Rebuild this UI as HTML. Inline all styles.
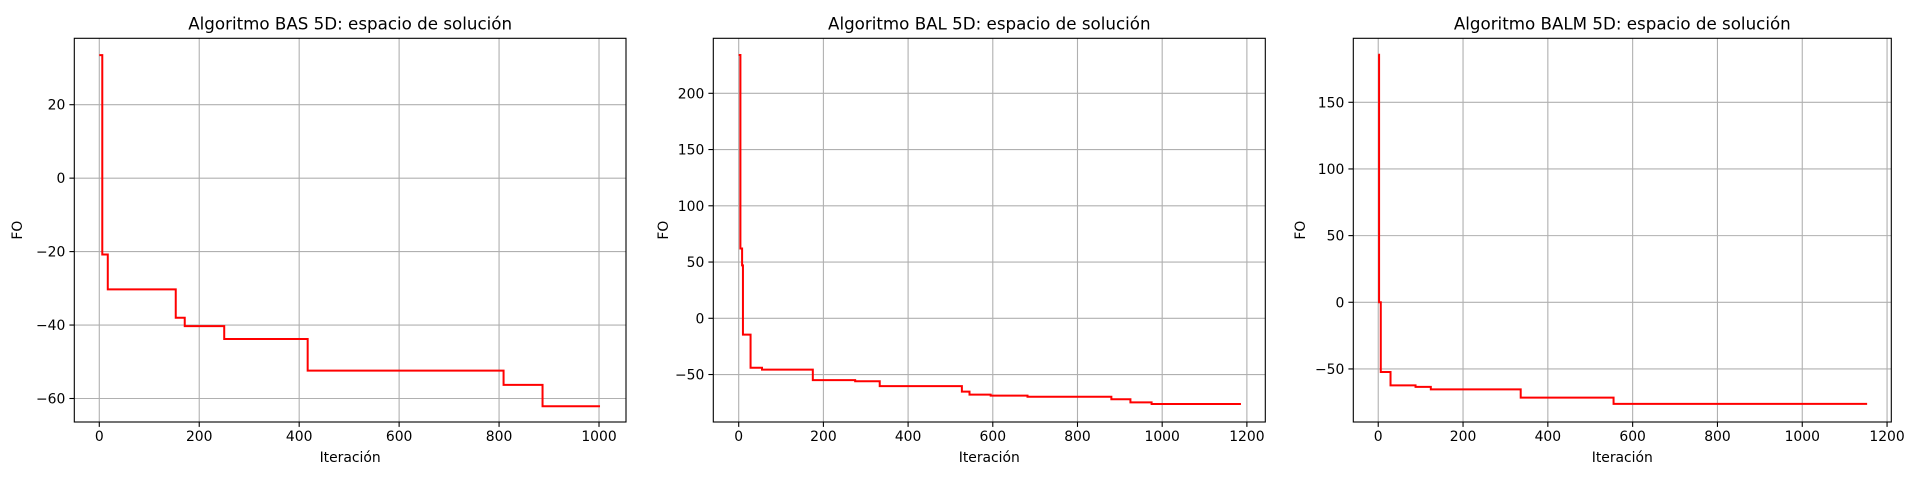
<!DOCTYPE html>
<html><head><meta charset="utf-8"><style>
html,body{margin:0;padding:0;background:#fff;}
svg text{font-family:"DejaVu Sans","Liberation Sans",sans-serif;fill:#000;}
</style></head><body>
<svg id="fig" width="1920" height="480" xmlns="http://www.w3.org/2000/svg"></svg>
<script>
// ---- data ----
const basX = [0, 6, 17, 153, 171, 250, 417, 809, 887];
const basY = [33.5, -20.8, -30.3, -38, -40.3, -43.8, -52.4, -56.3, -62.1];
const basEnd = 1002;
const balX = [0, 4, 8, 10, 28, 55, 175, 275, 333, 527, 545, 595, 682, 880, 925, 975];
const balY = [234, 62, 47, -14.5, -44, -45.6, -55, -56, -60.3, -65.2, -67.9, -68.8, -69.7, -72, -74.7, -76.2];
const balEnd = 1186;
const balmX = [0, 2, 6, 29, 88, 124, 336, 555];
const balmY = [185.7, 0, -52.3, -62.3, -63.5, -65.3, -71.5, -76.2];
const balmEnd = 1153;
const basYTicks = [-60, -40, -20, 0, 20];
const balYTicks = [-50, 0, 50, 100, 150, 200];
const balmYTicks = [-50, 0, 50, 100, 150];
const basXTicks = [0, 200, 400, 600, 800, 1000];
const balXTicks = [0, 200, 400, 600, 800, 1000, 1200];
const balmXTicks = [0, 200, 400, 600, 800, 1000, 1200];
const titles = ["Algoritmo BAS 5D: espacio de solución","Algoritmo BAL 5D: espacio de solución","Algoritmo BALM 5D: espacio de solución"];

const NS = "http://www.w3.org/2000/svg";
const svg = document.getElementById('fig');
function mk(tag, attrs, parent){const e=document.createElementNS(NS,tag);for(const k in attrs)e.setAttribute(k,attrs[k]);(parent||svg).appendChild(e);return e;}

function panel(idx, L, R, T, B, xmin, xmax, ymin, ymax, xs, ys, xend, xticks, yticks){
  const g = mk('g', {});
  
  
  const sx = v => L + (v - xmin) / (xmax - xmin) * (R - L);
  const sy = v => B - (v - ymin) / (ymax - ymin) * (B - T);
  xticks.forEach(t => {
    const l = mk('line', {x1:sx(t), x2:sx(t), y1:T, y2:B, stroke:'#b0b0b0', 'stroke-width':1.1}, g);
    
    
  });
  yticks.forEach(t => {
    const l = mk('line', {x1:L, x2:R, y1:sy(t), y2:sy(t), stroke:'#b0b0b0', 'stroke-width':1.1}, g);
    
    
  });
  let d = '';
  for (let i = 0; i < xs.length; i++) {
    const nx = i < xs.length - 1 ? xs[i+1] : xend;
    if (i === 0) d += 'M' + sx(xs[i]) + ' ' + sy(ys[i]);
    d += ' L' + sx(nx) + ' ' + sy(ys[i]);
    if (i < xs.length - 1) d += ' L' + sx(nx) + ' ' + sy(ys[i+1]);
  }
  const p = mk('path', {d:d, fill:'none', stroke:'#ff0000', 'stroke-width':2, 'stroke-linejoin':'miter'}, g);
  
  
  const f = mk('rect', {x:L, y:T, width:R-L, height:B-T, fill:'none', stroke:'#000', 'stroke-width':1.1}, g);
  
  
  xticks.forEach(t => {
    mk('line', {x1:sx(t), x2:sx(t), y1:B, y2:B+4.9, stroke:'#000', 'stroke-width':1.1}, g);
    const tx = mk('text', {x:sx(t), y:B+19, 'font-size':13.9, 'text-anchor':'middle'}, g);
    tx.textContent = t;
    
    
  });
  yticks.forEach(t => {
    mk('line', {x1:L-4.9, x2:L, y1:sy(t), y2:sy(t), stroke:'#000', 'stroke-width':1.1}, g);
    const tx = mk('text', {x:L-9, y:sy(t)+5, 'font-size':13.9, 'text-anchor':'end'}, g);
    tx.textContent = t < 0 ? '\u2212' + Math.abs(t) : t;
    
    
  });
  const tt = mk('text', {x:(L+R)/2, y:T-9, 'font-size':16.7, 'text-anchor':'middle'}, g);
  tt.textContent = titles[idx];
  
  
  const xl = mk('text', {x:(L+R)/2, y:B+40, 'font-size':13.9, 'text-anchor':'middle'}, g);
  xl.textContent = 'Iteración';
  
  
  const yx = idx === 0 ? 22 : (idx === 1 ? 668 : 1305);
  const yc = (T+B)/2;
  const yl = mk('text', {x:yx, y:yc, 'font-size':13.9, 'text-anchor':'middle', transform:'rotate(-90 '+yx+' '+yc+')'}, g);
  yl.textContent = 'FO';
  
  
}
panel(0, 74.3, 626, 38.3, 422, -50, 1054, -66.4, 38.08, basX, basY, basEnd, basXTicks, basYTicks);
panel(1, 713.3, 1265.3, 38.3, 422, -60, 1243.5, -92.2, 248.9, balX, balY, balEnd, balXTicks, balYTicks);
panel(2, 1353.3, 1891.3, 38.3, 422, -58.8, 1210, -89.8, 198, balmX, balmY, balmEnd, balmXTicks, balmYTicks);
</script>
</body></html>
